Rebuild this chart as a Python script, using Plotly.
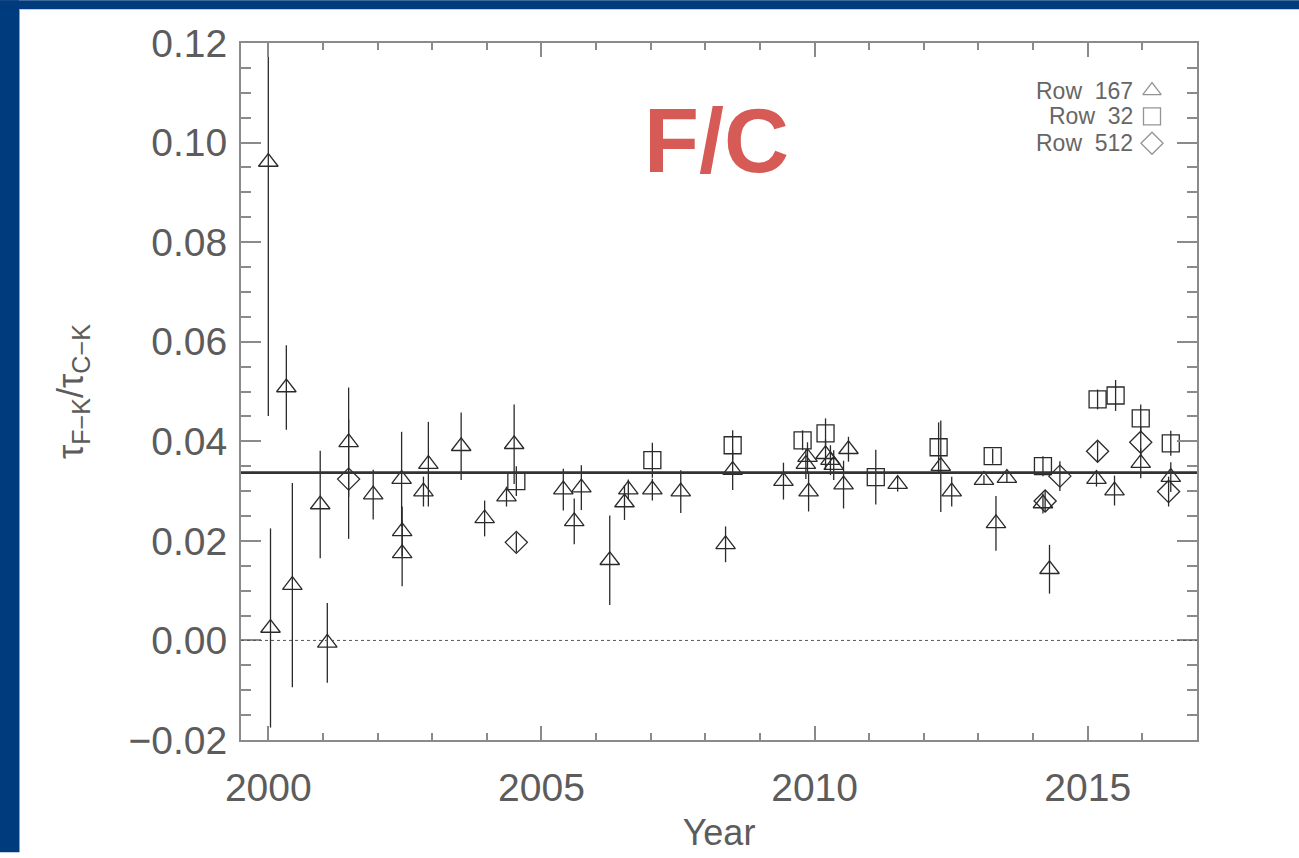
import plotly.graph_objects as go

# Row 167 (triangles): year, ratio, 1-sigma uncertainty
row167_year = [2000.00, 2000.04, 2000.44, 2000.33, 2001.08, 2000.95, 2001.47, 2001.92,
               2002.44, 2002.45, 2002.45, 2002.84, 2002.93, 2003.53, 2003.96, 2004.36,
               2004.50, 2005.40, 2005.73, 2005.60, 2006.25, 2006.59, 2006.52, 2007.03,
               2007.55, 2008.50, 2008.37, 2009.43, 2009.87, 2009.84, 2009.89, 2010.20,
               2010.29, 2010.35, 2010.62, 2010.53, 2011.52, 2012.31, 2012.51, 2013.10,
               2013.52, 2013.32, 2014.18, 2014.30, 2015.16, 2015.49, 2015.97, 2016.52]
row167_ratio = [0.0961, 0.0025, 0.0111, 0.0508, -0.0005, 0.0273, 0.0398, 0.0293,
                0.0324, 0.0219, 0.0175, 0.0299, 0.0354, 0.0390, 0.0245, 0.0289,
                0.0394, 0.0303, 0.0307, 0.0239, 0.0161, 0.0303, 0.0277, 0.0303,
                0.0299, 0.0342, 0.0193, 0.0320, 0.0368, 0.0354, 0.0299, 0.0374,
                0.0362, 0.0352, 0.0384, 0.0313, 0.0314, 0.0350, 0.0299, 0.0322,
                0.0326, 0.0235, 0.0275, 0.0143, 0.0324, 0.0301, 0.0356, 0.0328]
row167_err = [0.0510, 0.0200, 0.0205, 0.0085, 0.0080, 0.0108, 0.0110, 0.0050,
              0.0095, 0.0050, 0.0066, 0.0030, 0.0085, 0.0068, 0.0036, 0.0020,
              0.0080, 0.0042, 0.0045, 0.0046, 0.0090, 0.0020, 0.0035, 0.0022,
              0.0043, 0.0040, 0.0036, 0.0037, 0.0030, 0.0030, 0.0040, 0.0030,
              0.0030, 0.0030, 0.0025, 0.0048, 0.0015, 0.0092, 0.0030, 0.0010,
              0.0010, 0.0055, 0.0020, 0.0049, 0.0015, 0.0030, 0.0030, 0.0030]

# Row 32 (squares)
row32_year = [2004.54, 2007.03, 2008.50, 2009.78, 2010.20, 2011.12, 2012.27,
              2013.26, 2014.18, 2015.18, 2015.51, 2015.97, 2016.52]
row32_ratio = [0.0320, 0.0362, 0.0392, 0.0402, 0.0416, 0.0328, 0.0388,
               0.0370, 0.0350, 0.0484, 0.0492, 0.0446, 0.0396]
row32_err = [0.0030, 0.0035, 0.0030, 0.0020, 0.0030, 0.0055, 0.0050,
             0.0015, 0.0020, 0.0020, 0.0031, 0.0028, 0.0025]

# Row 512 (diamonds)
row512_year = [2001.47, 2004.54, 2014.22, 2014.49, 2015.18, 2015.97, 2016.48]
row512_ratio = [0.0324, 0.0197, 0.0280, 0.0330, 0.0380, 0.0398, 0.0299]
row512_err = [0.0120, 0.0020, 0.0020, 0.0030, 0.0020, 0.0030, 0.0030]

mean_ratio = 0.0337
zero_level = 0.0

legend_labels = ["Row 167", "Row 32", "Row 512"]
legend_symbols = ["triangle-up-open", "square-open", "diamond-open"]

# figure geometry (pixels)
W, H = 1299, 858
ML, MR, MT, MB = 241, 102, 43, 113
PW, PH = W - ML - MR, H - MT - MB

INK = "#2a2a2a"
AXIS_GRAY = "#8a8a8a"
TEXT_GRAY = "#5c5c5c"
NAVY = "#003B7D"


def px_x(px):
    return (px - ML) / PW


def px_y(py):
    return 1 - (py - MT) / PH


fig = go.Figure()


def add_series(x, y, err, symbol, size):
    fig.add_trace(go.Scatter(
        x=x, y=y, mode="markers", showlegend=False,
        marker=dict(symbol=symbol, size=size, color=INK,
                    line=dict(color=INK, width=1.3)),
        error_y=dict(type="data", array=err, visible=True,
                     color=INK, thickness=1.3, width=0),
    ))


add_series(row167_year, row167_ratio, row167_err, "triangle-up-open", 17)
add_series(row32_year, row32_ratio, row32_err, "square-open", 17)
add_series(row512_year, row512_ratio, row512_err, "diamond-open", 17)

# mean level and zero reference
fig.add_shape(type="line", xref="paper", yref="y", x0=0, x1=1,
              y0=mean_ratio, y1=mean_ratio, line=dict(color="#333333", width=2.6))
fig.add_shape(type="line", xref="paper", yref="y", x0=0, x1=1,
              y0=zero_level, y1=zero_level, line=dict(color="#555555", width=1, dash="dot"))

# key in the upper right: label text followed by its symbol
key_x_text = px_x(1135)
key_x_sym = px_x(1152)
key_rows = [91, 117, 144]
fig.add_trace(go.Scatter(
    x=[key_x_sym] * 3, y=[px_y(v) for v in key_rows], xaxis="x2", yaxis="y2",
    mode="markers", showlegend=False, hoverinfo="skip",
    marker=dict(symbol=legend_symbols, size=[16, 17, 17], color="#666666",
                line=dict(color="#666666", width=1.3)),
))
for lab, yy in zip(legend_labels, key_rows):
    fig.add_annotation(xref="paper", yref="paper", x=key_x_text, y=px_y(yy),
                       xanchor="right", yanchor="middle", showarrow=False,
                       text=lab.replace(" ", "&nbsp;&nbsp;"),
                       font=dict(family="Liberation Sans", size=23, color="#666666"))

# panel label
fig.add_annotation(xref="paper", yref="paper", x=px_x(716), y=px_y(142),
                   xanchor="center", yanchor="middle", showarrow=False, text="<b>F/C</b>",
                   font=dict(family="Liberation Sans", size=90, color="#D65A55"))

# page frame bands
fig.add_shape(type="rect", xref="paper", yref="paper", layer="above",
              x0=px_x(0), x1=px_x(19), y0=px_y(H), y1=px_y(0),
              fillcolor=NAVY, line=dict(width=0))
fig.add_shape(type="rect", xref="paper", yref="paper", layer="above",
              x0=px_x(0), x1=px_x(W), y0=px_y(9), y1=px_y(0),
              fillcolor=NAVY, line=dict(width=0))
fig.add_shape(type="line", xref="paper", yref="paper", layer="above",
              x0=px_x(19.5), x1=px_x(19.5), y0=px_y(H), y1=px_y(9),
              line=dict(color="#7FA3CF", width=1))

fig.update_layout(
    width=W, height=H,
    margin=dict(l=ML, r=MR, t=MT, b=MB, pad=0),
    paper_bgcolor="white", plot_bgcolor="white",
    showlegend=False,
    xaxis=dict(
        range=[1999.5, 2017.0], tickmode="linear", tick0=2000, dtick=5,
        ticks="inside", ticklen=14, tickwidth=1.5, tickcolor=AXIS_GRAY,
        minor=dict(ticks="inside", ticklen=7, tickwidth=1.5, tickcolor=AXIS_GRAY, dtick=1),
        showline=True, linecolor=AXIS_GRAY, linewidth=2, mirror="ticks",
        showgrid=False, zeroline=False, ticklabelstandoff=12,
        tickfont=dict(family="Liberation Sans", size=39, color=TEXT_GRAY),
        title=dict(text="Year", font=dict(family="Liberation Sans", size=36, color=TEXT_GRAY),
                   standoff=12),
    ),
    yaxis=dict(
        range=[-0.02, 0.12], tickmode="linear", tick0=0, dtick=0.02, tickformat=".2f",
        ticks="inside", ticklen=20, tickwidth=1.5, tickcolor=AXIS_GRAY,
        minor=dict(ticks="inside", ticklen=10, tickwidth=1.5, tickcolor=AXIS_GRAY, dtick=0.005),
        showline=True, linecolor=AXIS_GRAY, linewidth=2, mirror="ticks",
        showgrid=False, zeroline=False, ticklabelstandoff=4,
        tickfont=dict(family="Liberation Sans", size=39, color=TEXT_GRAY),
        title=dict(text="τ<sub>F−K</sub>/τ<sub>C−K</sub>",
                   font=dict(family="Liberation Sans", size=36, color=TEXT_GRAY),
                   standoff=34),
    ),
    xaxis2=dict(range=[0, 1], domain=[0, 1], overlaying="x", visible=False, fixedrange=True),
    yaxis2=dict(range=[0, 1], domain=[0, 1], overlaying="y", visible=False, fixedrange=True),
)

fig.write_html("out.html")
